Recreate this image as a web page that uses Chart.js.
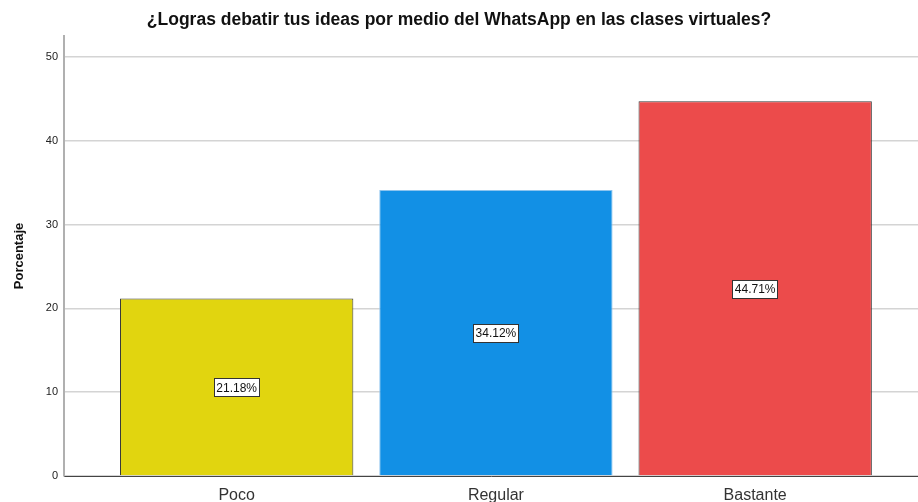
<!DOCTYPE html>
<html>
<head>
<meta charset="utf-8">
<script src="https://cdn.jsdelivr.net/npm/chart.js@4.4.0/dist/chart.umd.min.js"></script>
<style>
  html, body { margin: 0; padding: 0; background: #fff; }
  #wrap { width: 918px; height: 502px; }
</style>
</head>
<body>
<div id="wrap"><canvas id="grafico"></canvas></div>
<script>
const categorias = ['Poco', 'Regular', 'Bastante'];
const porcentajes = [21.18, 34.12, 44.71];
const coloresBarra = ['#e1d50f', '#1290e5', '#ec4b4b'];
const bordesBarra = ['#3a3a3a', '#8cc4ee', '#3a3a3a'];
const ticksY = [0, 10, 20, 30, 40, 50];

// etiqueta en el centro de cada barra, con caja blanca
const etiquetasBarra = {
  id: 'etiquetasBarra',
  afterDatasetsDraw(chart) {
    const ctx = chart.ctx;
    const meta = chart.getDatasetMeta(0);
    ctx.save();
    ctx.font = '12px "Liberation Sans", Arial, sans-serif';
    ctx.textAlign = 'center';
    ctx.textBaseline = 'middle';
    meta.data.forEach((bar, i) => {
      const txt = porcentajes[i].toFixed(2) + '%';
      const cy = (bar.y + bar.base) / 2 + 1;
      const w = ctx.measureText(txt).width + 5;
      const h = 19;
      ctx.fillStyle = '#fff';
      ctx.fillRect(Math.round(bar.x - w / 2), Math.round(cy - h / 2), Math.round(w), h);
      ctx.strokeStyle = '#333';
      ctx.lineWidth = 1;
      ctx.strokeRect(Math.round(bar.x - w / 2) + 0.5, Math.round(cy - h / 2) + 0.5, Math.round(w) - 1, h - 1);
      ctx.fillStyle = '#111';
      ctx.fillText(txt, bar.x, cy + 0.5);
    });
    ctx.restore();
  }
};

new Chart(document.getElementById('grafico'), {
  type: 'bar',
  data: {
    datasets: [{
      data: porcentajes.map((v, i) => ({ x: i, y: v })),
      backgroundColor: coloresBarra,
      borderColor: bordesBarra,
      borderWidth: 1,
      categoryPercentage: 0.9,
      barPercentage: 1.0
    }]
  },
  options: {
    responsive: true,
    maintainAspectRatio: false,
    animation: false,
    layout: { padding: 0 },
    plugins: {
      legend: { display: false },
      tooltip: { enabled: false },
      title: {
        display: true,
        text: '¿Logras debatir tus ideas por medio del WhatsApp en las clases virtuales?',
        color: '#111',
        font: { family: '"Liberation Sans", Arial, sans-serif', size: 17.5, weight: 'bold' },
        padding: { top: 10, bottom: 5 }
      }
    },
    scales: {
      x: {
        type: 'linear',
        offset: false,
        min: -0.666,
        max: 2.628,
        afterBuildTicks: (scale) => { scale.ticks = categorias.map((c, i) => ({ value: i })); },
        afterFit: (scale) => { scale.height = 26; },
        grid: { display: false },
        border: { color: '#444', width: 1 },
        ticks: {
          callback: (v) => categorias[v],
          color: '#333',
          padding: 2,
          maxRotation: 0,
          font: { family: '"Liberation Sans", Arial, sans-serif', size: 16 }
        }
      },
      y: {
        min: 0,
        max: 52.5,
        afterBuildTicks: (scale) => { scale.ticks = ticksY.map(v => ({ value: v })); },
        afterFit: (scale) => { scale.width = 64; },
        grid: { color: '#d4d4d4', lineWidth: 1.5, drawTicks: false },
        border: { color: '#b0b0b0', width: 2 },
        ticks: {
          color: '#222',
          padding: 6,
          font: { family: '"Liberation Sans", Arial, sans-serif', size: 11 }
        },
        title: {
          display: true,
          text: 'Porcentaje',
          color: '#111',
          font: { family: '"Liberation Sans", Arial, sans-serif', size: 13, weight: 'bold' },
          padding: { top: 12, bottom: 0 }
        }
      }
    }
  },
  plugins: [etiquetasBarra]
});
</script>
</body>
</html>
